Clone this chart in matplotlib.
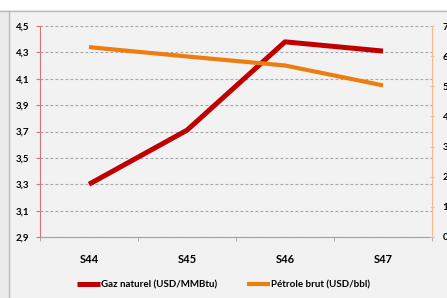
import matplotlib
matplotlib.use("Agg")
import matplotlib.pyplot as plt
from matplotlib.patches import Rectangle
from matplotlib.lines import Line2D

weeks = ["S44", "S45", "S46", "S47"]
gaz = [3.30, 3.71, 4.38, 4.31]
petrole = [6.30, 5.99, 5.69, 5.03]
left_ticks = [2.9, 3.1, 3.3, 3.5, 3.7, 3.9, 4.1, 4.3, 4.5]
left_labels = ["2,9", "3,1", "3,3", "3,5", "3,7", "3,9", "4,1", "4,3", "4,5"]
right_ticks = [0, 1, 2, 3, 4, 5, 6, 7]

fam = ['Lato', 'DejaVu Sans']
plt.rcParams['font.family'] = fam

fig = plt.figure(figsize=(4.47, 2.98), dpi=100, facecolor='#f2f2f2')
# frame decorations
fig.patches.append(Rectangle((0, 0.965), 1, 0.035, transform=fig.transFigure,
                             facecolor='white', edgecolor='none', zorder=0))
fig.lines.append(Line2D([0, 1], [0.963, 0.963], transform=fig.transFigure,
                        color='#b8b8b8', lw=1))
fig.patches.append(Rectangle((0, 0), 0.02, 0.963, transform=fig.transFigure,
                             facecolor='#ebebeb', edgecolor='none', zorder=0))
fig.lines.append(Line2D([0.021, 0.021], [0, 0.963], transform=fig.transFigure,
                        color='#b8b8b8', lw=1))

ax = fig.add_axes([0.0895, 0.2047, 0.877, 0.708])
ax.set_facecolor('#f2f2f2')
x = list(range(len(weeks)))
ln1, = ax.plot(x, gaz, color='#c00000', lw=3.6, solid_capstyle='butt', zorder=3)
ax.set_ylim(2.9, 4.5)
ax.set_xlim(-0.5, len(weeks) - 0.5)
ax.set_yticks(left_ticks)
ax.set_yticklabels(left_labels, fontsize=7, fontweight='bold')
ax.yaxis.grid(True, linestyle=(0, (2.5, 2)), color='#a6a6a6', lw=0.8)
ax.set_axisbelow(True)

ax.set_xticks(x)
ax.set_xticklabels(weeks, fontsize=8, fontweight='bold')
ax.set_xticks([i - 0.5 for i in range(len(weeks) + 1)], minor=True)
ax.tick_params(axis='x', which='major', length=0, pad=12)
ax.tick_params(axis='x', which='minor', length=3, color='#a0a0a0')
ax.tick_params(axis='y', length=3, color='#d9737a', pad=4.5)

ax.spines['top'].set_visible(False)
ax.spines['left'].set_color('#d9737a')
ax.spines['bottom'].set_color('#a0a0a0')
ax.spines['right'].set_visible(False)

ax2 = ax.twinx()
ln2, = ax2.plot(x, petrole, color='#ed7d0f', lw=3.0, solid_capstyle='butt', zorder=3)
ax2.set_ylim(0, 7)
ax2.set_yticks(right_ticks)
ax2.set_yticklabels([str(t) for t in right_ticks], fontsize=7, fontweight='bold')
ax2.tick_params(axis='y', length=3, direction='inout', color='#f9b98a', pad=6)
ax2.spines['right'].set_color('#f9b98a')
ax2.spines['top'].set_visible(False)
ax2.spines['left'].set_visible(False)
ax2.spines['bottom'].set_visible(False)

fig.legend([ln1, ln2], ["Gaz naturel (USD/MMBtu)", "Pétrole brut (USD/bbl)"],
           loc='center', bbox_to_anchor=(0.5, 0.043), ncol=2, frameon=False,
           handlelength=2.4, handletextpad=0.1, columnspacing=3.0,
           prop={'family': fam, 'size': 7, 'weight': 'bold'})

fig.savefig("out.png", dpi=100, facecolor=fig.get_facecolor())
